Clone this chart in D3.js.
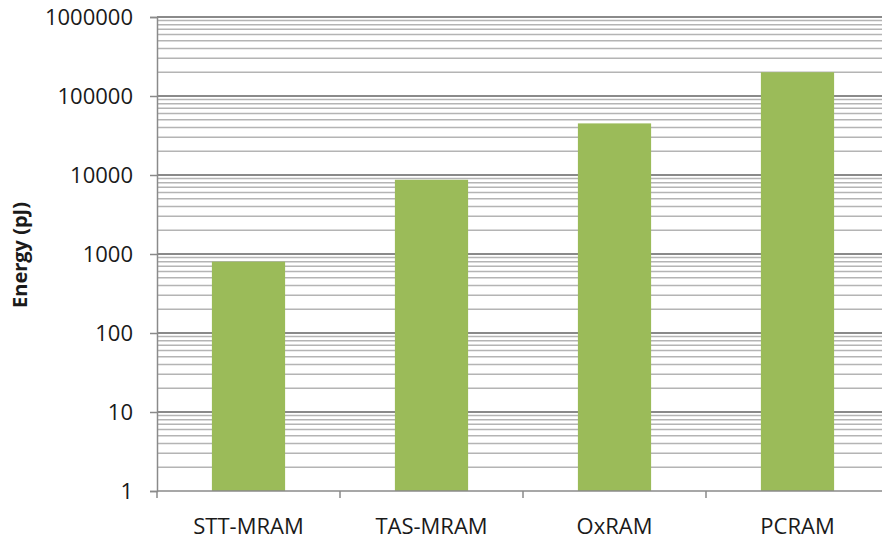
<!DOCTYPE html>
<html>
<head>
<meta charset="utf-8">
<script src="https://cdn.jsdelivr.net/npm/d3@7"></script>
<style>
  html, body { margin: 0; padding: 0; background: #fff; }
  svg { display: block; }
  text { font-family: "Open Sans", sans-serif; fill: #1a1a1a; }
</style>
</head>
<body>
<svg id="chart" width="882" height="541"></svg>
<script>
// Write energy per technology (pJ), log scale
const categories = ["STT-MRAM", "TAS-MRAM", "OxRAM", "PCRAM"];
const energy = [800, 8700, 45000, 200000];
const yTicks = [1, 10, 100, 1000, 10000, 100000, 1000000];
const yLabel = "Energy (pJ)";

const svg = d3.select("#chart");
const plotLeft = 157, plotTop = 17, plotBottom = 491, plotRight = 889;

const x = d3.scaleBand()
  .domain(categories)
  .range([plotLeft, plotRight])
  .paddingInner(0.6)
  .paddingOuter(0.3);

const y = d3.scaleLog()
  .domain([1, 1000000])
  .range([plotBottom, plotTop]);

// minor gridlines: 2..9 within each decade
const minor = [];
for (let d = 0; d < yTicks.length - 1; d++) {
  for (let m = 2; m <= 9; m++) minor.push(yTicks[d] * m);
}

const grid = svg.append("g");
grid.selectAll("line.minor")
  .data(minor)
  .join("line")
  .attr("class", "minor")
  .attr("x1", plotLeft).attr("x2", plotRight)
  .attr("y1", d => y(d)).attr("y2", d => y(d))
  .attr("stroke", "#b4b4b4")
  .attr("stroke-width", 1.5);

grid.selectAll("line.major")
  .data(yTicks.slice(1))
  .join("line")
  .attr("class", "major")
  .attr("x1", plotLeft).attr("x2", plotRight)
  .attr("y1", d => y(d)).attr("y2", d => y(d))
  .attr("stroke", "#8a8a8a")
  .attr("stroke-width", 2);

// bars
svg.append("g")
  .selectAll("rect")
  .data(categories.map((c, i) => ({ c, v: energy[i] })))
  .join("rect")
  .attr("x", d => x(d.c))
  .attr("width", x.bandwidth())
  .attr("y", d => y(d.v))
  .attr("height", d => y(1) - y(d.v))
  .attr("fill", "#9bbb59");

// y axis
const yAxis = svg.append("g")
  .attr("transform", `translate(${plotLeft},0)`)
  .call(d3.axisLeft(y).tickValues(yTicks).tickFormat(d3.format("d")).tickSize(7).tickPadding(17));
yAxis.select(".domain").attr("stroke", "#8a8a8a").attr("stroke-width", 1.5);
yAxis.selectAll(".tick line").attr("stroke", "#8a8a8a").attr("stroke-width", 1.5);
yAxis.selectAll(".tick text")
  .attr("font-size", 22)
  .attr("font-family", "'Open Sans', sans-serif")
  .attr("fill", "#1a1a1a");

// x axis with ticks at category boundaries
const xAxisG = svg.append("g");
xAxisG.append("line")
  .attr("x1", plotLeft).attr("x2", plotRight)
  .attr("y1", plotBottom).attr("y2", plotBottom)
  .attr("stroke", "#8a8a8a").attr("stroke-width", 1.5);
const step = x.step();
xAxisG.selectAll("line.tick")
  .data(d3.range(categories.length + 1))
  .join("line")
  .attr("class", "tick")
  .attr("x1", i => plotLeft + i * step).attr("x2", i => plotLeft + i * step)
  .attr("y1", plotBottom).attr("y2", plotBottom + 7)
  .attr("stroke", "#8a8a8a").attr("stroke-width", 1.5);
xAxisG.selectAll("text")
  .data(categories)
  .join("text")
  .attr("x", d => x(d) + x.bandwidth() / 2)
  .attr("y", 534)
  .attr("text-anchor", "middle")
  .attr("font-size", 22)
  .text(d => d);

// y axis title
svg.append("text")
  .attr("transform", `translate(27,255) rotate(-90)`)
  .attr("text-anchor", "middle")
  .attr("font-size", 20)
  .attr("font-weight", "bold")
  .text(yLabel);
</script>
</body>
</html>
